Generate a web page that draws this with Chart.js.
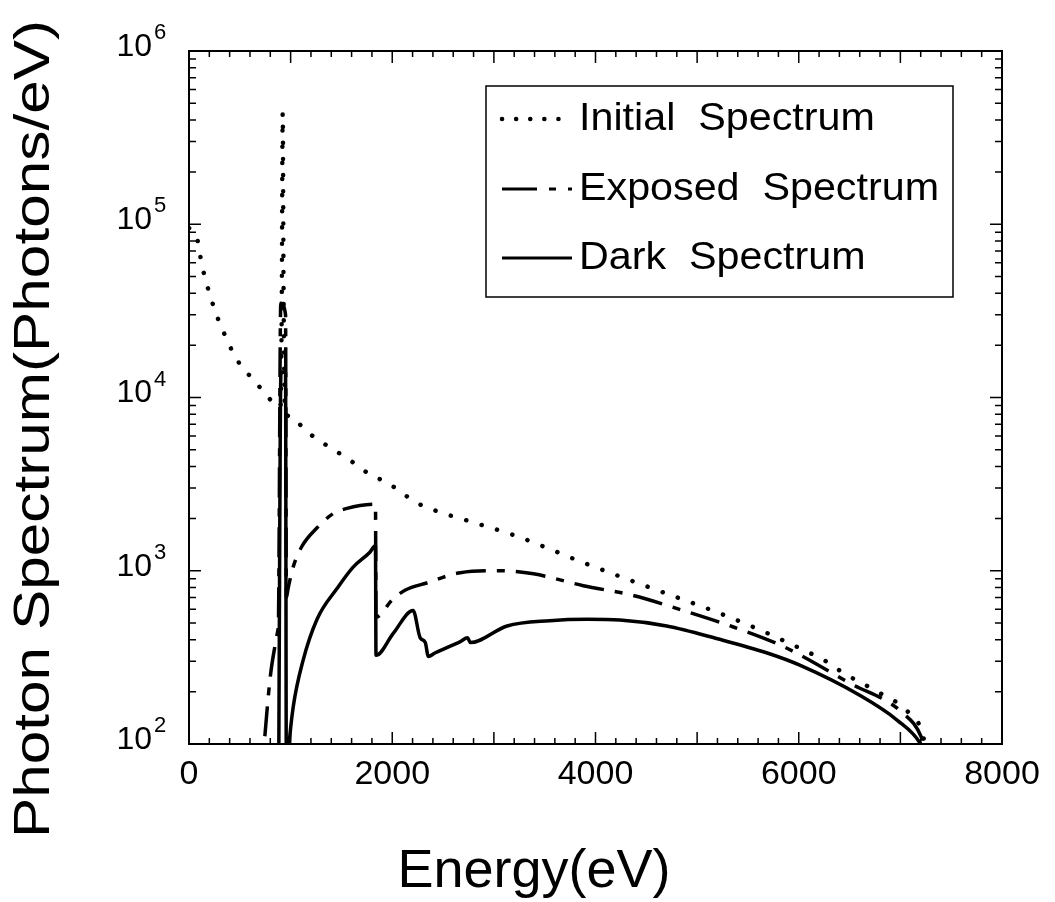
<!DOCTYPE html>
<html>
<head>
<meta charset="utf-8">
<script src="https://cdn.jsdelivr.net/npm/chart.js@4/dist/chart.umd.min.js"></script>
<style>
  body { margin: 0; background: #fff; }
  #wrap { width: 1055px; height: 902px; }
</style>
</head>
<body>
<div id="wrap"><canvas id="grafico" width="1055" height="902"></canvas></div>
<script>
// valores (energia em eV, espectro em fotons/eV)
const initialE = [0, 40, 80, 110, 140, 180, 225, 280, 345, 425, 520, 640, 780, 900, 912, 922, 932, 945,
  1000, 1140, 1310, 1470, 1620, 1780, 1960, 2120, 2250, 2400, 2800, 3230, 3870, 4510, 5150, 5640,
  5790, 6110, 6290, 6440, 6750, 7050, 7215, 7240];
const initialY = [9.5e4, 9.0e4, 8.3e4, 6.6e4, 5.4e4, 4.4e4, 3.6e4, 2.9e4, 2.35e4, 1.86e4, 1.5e4, 1.26e4,
  1.0e4, 8.8e3, 3e4, 4.4e5, 3e4, 8.2e3, 7.8e3, 6.5e3, 5.5e3, 4.8e3, 4.2e3, 3.6e3, 3.2e3, 2.75e3, 2.45e3,
  2.25e3, 1.9e3, 1.58e3, 1.12e3, 810, 590, 450, 410, 335, 295, 257, 204, 158, 117, 100];

const exposedE = [700, 740, 800, 850, 876, 880, 903, 950, 958, 975, 1025, 1110, 1260, 1420, 1555, 1683,
  1835, 1840, 2000, 2130, 2340, 2670, 3060, 3390, 3880, 4370, 4860, 5350, 5850, 6500, 7030, 7205, 7225];
const exposedY = [50, 100, 245, 380, 460, 500, 3.5e4, 3.0e4, 700, 790, 1050, 1380, 1770, 2140, 2290, 2380,
  2420, 540, 680, 775, 850, 975, 1000, 960, 820, 720, 590, 475, 365, 225, 150, 110, 100];

const darkE = [880, 905, 950, 958, 985, 1025, 1120, 1260, 1460, 1615, 1780, 1835, 1840, 2010, 2205, 2275,
  2325, 2355, 2420, 2670, 2740, 2770, 3130, 3550, 3920, 4240, 4700, 5200, 5690, 6010, 6600, 6970, 7195, 7215];
const darkY = [30, 1.4e4, 1.4e4, 60, 100, 163, 300, 525, 795, 1050, 1280, 1400, 325, 435, 590, 410,
  385, 320, 335, 390, 410, 385, 480, 515, 525, 520, 480, 405, 335, 285, 191, 137, 101, 95];

const xTicks = [0, 2000, 4000, 6000, 8000];
const yDecadas = [2, 3, 4, 5, 6];
const nomesSeries = ['Initial Spectrum', 'Exposed Spectrum', 'Dark Spectrum'];

const FONTE = '"Liberation Sans", Arial, sans-serif';
const tracoPontilhado = [0.1, 16];
const tracoPontoTraco = [30, 11, 8, 11];

function montaPontos(xs, ys) {
  return xs.map((x, i) => ({ x: x, y: ys[i] }));
}

// escreve texto esticado na horizontal ate a largura pedida
function textoEsticado(ctx, texto, x, y, largura) {
  const w = ctx.measureText(texto).width;
  ctx.save();
  ctx.translate(x, y);
  ctx.scale(largura / w, 1);
  ctx.fillText(texto, 0, 0);
  ctx.restore();
}

const molduraPlugin = {
  id: 'moldura',
  beforeDraw(chart) {
    const ctx = chart.ctx;
    ctx.save();
    ctx.fillStyle = '#fff';
    ctx.fillRect(0, 0, chart.width, chart.height);
    ctx.restore();
  },
  afterDraw(chart) {
    const ctx = chart.ctx;
    const area = chart.chartArea;
    const sx = chart.scales.x;
    const sy = chart.scales.y;
    ctx.save();
    ctx.strokeStyle = '#000';
    ctx.fillStyle = '#000';
    ctx.lineWidth = 2;
    ctx.setLineDash([]);
    ctx.strokeRect(area.left, area.top, area.right - area.left, area.bottom - area.top);

    // marcas do eixo x
    ctx.lineWidth = 1.5;
    for (let v = 0; v <= 8000; v += 200) {
      const px = sx.getPixelForValue(v);
      const len = v % 1000 === 0 ? 12 : 6;
      ctx.beginPath();
      ctx.moveTo(px, area.bottom);
      ctx.lineTo(px, area.bottom - len);
      ctx.moveTo(px, area.top);
      ctx.lineTo(px, area.top + len);
      ctx.stroke();
    }
    // marcas do eixo y (log)
    for (let d = 2; d <= 5; d++) {
      for (let m = 1; m <= 9; m++) {
        const py = sy.getPixelForValue(m * Math.pow(10, d));
        const len = m === 1 ? 12 : 7;
        ctx.beginPath();
        ctx.moveTo(area.left, py);
        ctx.lineTo(area.left + len, py);
        ctx.moveTo(area.right, py);
        ctx.lineTo(area.right - len, py);
        ctx.stroke();
      }
    }

    // rotulos x
    ctx.font = '34px ' + FONTE;
    ctx.textAlign = 'center';
    ctx.textBaseline = 'top';
    xTicks.forEach((v) => {
      ctx.fillText(String(v), sx.getPixelForValue(v), area.bottom + 14);
    });

    // rotulos y: 10 com expoente
    yDecadas.forEach((d) => {
      const py = sy.getPixelForValue(Math.pow(10, d));
      ctx.font = '32px ' + FONTE;
      ctx.textAlign = 'right';
      ctx.textBaseline = 'middle';
      ctx.fillText('10', area.left - 37, py - 4);
      ctx.font = '22px ' + FONTE;
      ctx.textAlign = 'left';
      ctx.fillText(String(d), area.left - 35, py - 18);
    });

    // titulos
    ctx.font = '54px ' + FONTE;
    ctx.textAlign = 'center';
    ctx.textBaseline = 'alphabetic';
    ctx.fillText('Energy(eV)', 534, 887);

    ctx.save();
    ctx.translate(49, 429);
    ctx.rotate(-Math.PI / 2);
    ctx.font = '50px ' + FONTE;
    textoEsticado(ctx, 'Photon Spectrum(Photons/eV)', 0, 0, 818);
    ctx.restore();

    // legenda
    const caixa = { left: 486, top: 86, right: 953, bottom: 297 };
    ctx.lineWidth = 1.5;
    ctx.strokeRect(caixa.left, caixa.top, caixa.right - caixa.left, caixa.bottom - caixa.top);
    const linhasY = [119, 189, 258];
    const estilos = [tracoPontilhado, [35, 12, 7, 12, 7, 3], []];
    const larguras = [4.5, 3, 3];
    ctx.font = '38px ' + FONTE;
    ctx.textAlign = 'left';
    ctx.textBaseline = 'middle';
    const fator = 360 / ctx.measureText('Exposed  Spectrum').width;
    nomesSeries.forEach((nome, i) => {
      ctx.lineWidth = larguras[i];
      ctx.lineCap = i === 0 ? 'round' : 'butt';
      ctx.setLineDash(i === 0 ? [0.1, 14] : estilos[i]);
      ctx.beginPath();
      ctx.moveTo(502, linhasY[i]);
      ctx.lineTo(572, linhasY[i]);
      ctx.stroke();
      ctx.setLineDash([]);
      const texto = nome.replace(' ', '  ');
      textoEsticado(ctx, texto, 579, linhasY[i] + 1, ctx.measureText(texto).width * fator);
    });
    ctx.restore();
  },
};

new Chart(document.getElementById('grafico'), {
  type: 'line',
  data: {
    datasets: [
      {
        label: nomesSeries[0],
        data: montaPontos(initialE, initialY),
        borderColor: '#000',
        borderWidth: 4.5,
        borderDash: tracoPontilhado,
        borderCapStyle: 'round',
        pointRadius: 0,
        cubicInterpolationMode: 'monotone',
      },
      {
        label: nomesSeries[1],
        data: montaPontos(exposedE, exposedY),
        borderColor: '#000',
        borderWidth: 3.5,
        borderDash: tracoPontoTraco,
        pointRadius: 0,
        cubicInterpolationMode: 'monotone',
      },
      {
        label: nomesSeries[2],
        data: montaPontos(darkE, darkY),
        borderColor: '#000',
        borderWidth: 3.5,
        pointRadius: 0,
        cubicInterpolationMode: 'monotone',
      },
    ],
  },
  options: {
    responsive: false,
    animation: false,
    layout: { padding: { left: 189, top: 51, right: 53, bottom: 158 } },
    plugins: { legend: { display: false }, tooltip: { enabled: false } },
    scales: {
      x: { type: 'linear', min: 0, max: 8000, display: false },
      y: { type: 'logarithmic', min: 100, max: 1e6, display: false },
    },
  },
  plugins: [molduraPlugin],
});
</script>
</body>
</html>
